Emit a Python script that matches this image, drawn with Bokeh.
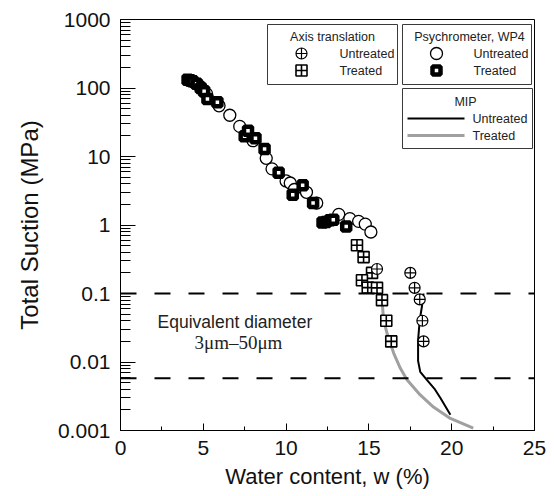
from bokeh.plotting import figure
from bokeh.models import (Range1d, FixedTicker, CustomJSTickFormatter, Span, Label,
                          LinearScale)
from bokeh.core.properties import value
from bokeh.embed import file_html
from bokeh.resources import INLINE

# ---------------- data ----------------
# Psychrometer, WP4
psy_unt_w = [4.15, 4.5, 4.75, 5.2, 5.95, 6.6, 7.2, 8.0, 8.8, 9.15, 10.0, 10.25, 10.5,
             11.23, 11.85, 13.18, 13.85, 14.38, 14.78, 15.12]
psy_unt_s = [128, 118, 108, 82, 55, 40, 27.5, 17, 9.4, 6.6, 4.4, 4.1, 3.3,
             3.0, 2.09, 1.43, 1.24, 1.13, 1.03, 0.79]
psy_trt_w = [4.05, 4.2, 4.35, 4.6, 4.85, 5.05, 5.25, 5.85, 7.5, 7.7, 8.15, 8.7, 9.55,
             10.4, 11.0, 11.63, 12.2, 12.4, 12.65, 12.85, 13.63]
psy_trt_s = [132, 130, 125, 115, 100, 90, 69, 62, 19.7, 23.8, 18.4, 12.9, 5.8,
             2.76, 3.8, 2.09, 1.09, 1.11, 1.17, 1.19, 0.95]
# Axis translation
at_unt_w = [15.49, 17.5, 17.76, 18.07, 18.23, 18.3]
at_unt_s = [0.228, 0.2, 0.121, 0.082, 0.04, 0.02]
at_trt_w = [14.28, 14.68, 15.19, 14.58, 14.93, 15.49, 15.79, 16.05, 16.35]
at_trt_s = [0.505, 0.34, 0.2, 0.156, 0.122, 0.121, 0.08, 0.04, 0.02]
# MIP
mip_unt_w = [18.3, 18.2, 18.07, 17.97, 17.97, 18.1, 18.5, 18.95, 19.31, 19.92]
mip_unt_s = [0.1, 0.064, 0.041, 0.0209, 0.0104, 0.0072, 0.0055, 0.0041, 0.003, 0.0017]
mip_trt_w = [15.69, 15.79, 15.89, 16.1, 16.5, 16.9, 17.3, 18.1, 18.9, 19.92, 21.3]
mip_trt_s = [0.1, 0.08, 0.041, 0.026, 0.0134, 0.0081, 0.0055, 0.0033, 0.0022, 0.0015, 0.00108]
# equivalent-diameter band (3 um - 50 um)
band_suction = [0.1, 0.0058]

x_ticks = [0, 5, 10, 15, 20, 25]
x_minor = [2.5, 7.5, 12.5, 17.5, 22.5]
y_ticks = [0.001, 0.01, 0.1, 1, 10, 100, 1000]

legend_titles = ["Axis translation", "Psychrometer, WP4", "MIP"]
legend_labels = ["Untreated", "Treated"]

FONT = "Liberation Sans"
INK = "#222222"

p = figure(width=554, height=496, y_axis_type="log",
           x_range=Range1d(0, 25), y_range=Range1d(0.001, 1000),
           output_backend="svg", toolbar_location=None,
           min_border_left=120, min_border_right=20,
           min_border_top=19, min_border_bottom=66)
# pixel-space ranges (linear) used only for the legend boxes
p.extra_x_ranges = {"px": Range1d(120, 534)}
p.extra_y_ranges = {"px": Range1d(430, 19)}
p.extra_x_scales = {"px": LinearScale()}
p.extra_y_scales = {"px": LinearScale()}
p.background_fill_color = "white"
p.border_fill_color = "white"
p.outline_line_color = "black"
p.outline_line_width = 1
p.xgrid.visible = False
p.ygrid.visible = False

y_minor = [m * 10.0 ** k for k in range(-3, 3) for m in range(2, 10)]
p.yaxis.ticker = FixedTicker(ticks=y_ticks, minor_ticks=y_minor)
p.yaxis.formatter = CustomJSTickFormatter(
    code="return tick >= 1 ? tick.toFixed(0) : tick.toPrecision(1);")
p.xaxis.ticker = FixedTicker(ticks=x_ticks, minor_ticks=x_minor)

for ax in (p.xaxis[0], p.yaxis[0]):
    ax.axis_line_color = "black"
    ax.major_tick_line_color = "black"
    ax.minor_tick_line_color = "black"
    ax.major_tick_out = 0
    ax.minor_tick_out = 0
    ax.major_label_text_font = FONT
    ax.major_label_text_font_size = "21px"
    ax.major_label_text_color = "#111111"
    ax.axis_label_text_font = FONT
    ax.axis_label_text_font_style = "normal"
    ax.axis_label_text_color = "#111111"

p.yaxis.major_tick_in = 15
p.yaxis.minor_tick_in = 10
p.yaxis.major_label_standoff = 10
p.yaxis.axis_label = "Total Suction (MPa)"
p.yaxis.axis_label_text_font_size = "24px"
p.yaxis.axis_label_standoff = 12

p.xaxis.major_tick_in = 7
p.xaxis.minor_tick_in = 4
p.xaxis.major_label_standoff = 10
p.xaxis.axis_label = "Water content, w (%)"
p.xaxis.axis_label_text_font_size = "22px"
p.xaxis.axis_label_standoff = 6

for s in band_suction:
    p.add_layout(Span(location=s, dimension="width", line_color="black",
                      line_width=2, line_dash="16 18"))

# styles
MIP_T = dict(line_color="#a0a0a0", line_width=3)
MIP_U = dict(line_color="black", line_width=2)
PSY_U = dict(marker="circle", size=12, fill_color="white", line_color="black", line_width=1.3)
PSY_T = dict(marker="square", size=8, fill_color="white", line_color="black", line_width=4.5)
AT_T = dict(marker="square_cross", size=11, fill_color="white", line_color="black", line_width=1.6)
AT_U = dict(marker="circle_cross", size=11, fill_color="white", line_color="black", line_width=1.2)

# MIP curves
p.line(mip_trt_w, mip_trt_s, **MIP_T)
p.line(mip_unt_w, mip_unt_s, **MIP_U)
# Psychrometer
p.scatter(psy_unt_w, psy_unt_s, **PSY_U)
p.scatter(psy_trt_w, psy_trt_s, **PSY_T)
# Axis translation
p.scatter(at_trt_w, at_trt_s, **AT_T)
p.scatter(at_unt_w, at_unt_s, **AT_U)

# ---------------- legend boxes (drawn in pixel space) ----------------
PX = dict(x_range_name="px", y_range_name="px")
box_l = [267, 402, 402]
box_r = [397, 531, 532]
box_t = [24, 24, 88]
box_b = [84, 84, 148]
p.quad(left=box_l, right=box_r, top=box_t, bottom=box_b,
       fill_color="white", line_color="#3a3a3a", line_width=1, **PX)

TXT = dict(text_font=value(FONT), text_font_size="12.5px", text_color=INK,
           text_baseline="middle", **PX)
p.text(x=[332, 469, 465], y=[36, 36, 101], text=legend_titles, text_align="center", **TXT)
p.text(x=[339, 339, 473, 473, 472, 472], y=[53, 70, 53, 70, 118, 135],
       text=legend_labels * 3, text_align="left", **TXT)

p.scatter(x=[301], y=[53], **AT_U, **PX)
p.scatter(x=[301], y=[70], **AT_T, **PX)
p.scatter(x=[436], y=[53], **PSY_U, **PX)
p.scatter(x=[436], y=[70], **PSY_T, **PX)
p.line(x=[407, 464], y=[118, 118], **MIP_U, **PX)
p.line(x=[407, 464], y=[135, 135], **MIP_T, **PX)

# band annotation
def lab(x, y, text, size, font):
    p.add_layout(Label(x=x, y=y, text=text, text_align="center",
                       text_baseline="middle", text_font=font,
                       text_font_size=size, text_color=INK))

lab(6.91, 0.0378, "Equivalent diameter", "17.5px", FONT)
lab(7.12, 0.0193, "3\u03bcm\u201350\u03bcm", "19px", "Liberation Serif")

open("out.html", "w").write(file_html(p, INLINE))
